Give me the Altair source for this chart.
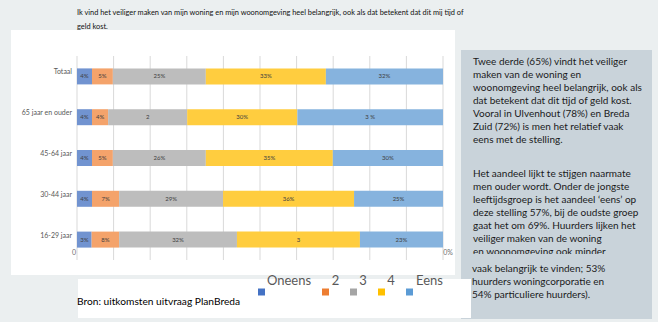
import altair as alt
import pandas as pd

# ---------------- data ----------------
categories = ["Totaal", "65 jaar en ouder", "45-64 jaar", "30-44 jaar", "16-29 jaar"]
answers = ["Oneens", "2", "3", "4", "Eens"]

# segment widths (percent)
oneens = [4.1, 4.1, 4.1, 4.1, 4.0]
twee = [5.7, 4.4, 5.7, 7.4, 7.5]
drie = [25.4, 21.6, 25.4, 28.4, 32.2]
vier = [32.8, 30.1, 34.7, 35.8, 33.6]
eens = [32.0, 39.8, 30.1, 24.3, 22.7]

# data labels as they appear
lab_oneens = ["4%", "4%", "4%", "4%", "3%"]
lab_twee = ["5%", "4%", "5%", "7%", "8%"]
lab_drie = ["25%", "2", "26%", "29%", "32%"]
lab_vier = ["33%", "30%", "35%", "36%", "3"]
lab_eens = ["32%", "3 %", "30%", "25%", "23%"]

gridlines = [0, 10, 20, 30, 40, 50, 60, 70, 80, 90, 100]
axis_labels = ["0", "0%"]

title_lines = [
    "Ik vind het veiliger maken van mijn woning en mijn woonomgeving heel belangrijk, ook als dat betekent dat dit mij tijd of",
    "geld kost.",
]
para1 = [
    "Twee derde (65%) vindt het veiliger",
    "maken van de woning en",
    "woonomgeving heel belangrijk, ook als",
    "dat betekent dat dit tijd  of geld kost.",
    "Vooral in Ulvenhout (78%) en Breda",
    "Zuid (72%) is men het relatief vaak",
    "eens met de stelling.",
]
para2 = [
    "Het aandeel lijkt te stijgen naarmate",
    "men ouder wordt.  Onder de jongste",
    "leeftijdsgroep  is het aandeel \u2018eens\u2019 op",
    "deze stelling 57%, bij de oudste groep",
    "gaat het om 69%. Huurders lijken het",
    "veiliger maken van de woning",
    "en woonomgeving ook minder",
]
para3 = [
    "vaak belangrijk te vinden; 53%",
    "huurders woningcorporatie en",
    "54% particuliere huurders).",
]
source = "Bron: uitkomsten uitvraag PlanBreda"

# ---------------- styles / layout ----------------
bar_colors = ["#7193d0", "#f4a36b", "#bdbdbd", "#ffcd3f", "#86b3de"]
legend_colors = ["#4472c4", "#ed7d31", "#a5a5a5", "#ffc000", "#5b9bd5"]
legend_label_x = [289, 335.5, 363, 391, 429.5]
legend_square_x = [261.5, 325.5, 353.5, 381.5, 409.5]
axis_label_x = [74, 448]
FONT = "Lato"
BG = "#ebeff0"
PANEL = "#c9d3da"

W, H = 658, 322

rows = []
series = [oneens, twee, drie, vier, eens]
labels = [lab_oneens, lab_twee, lab_drie, lab_vier, lab_eens]
for ci, cat in enumerate(categories):
    for ai, ans in enumerate(answers):
        rows.append({"cat": cat, "ans": ans, "ord": ai,
                     "val": series[ai][ci], "lab": labels[ai][ci]})
df = pd.DataFrame(rows)

xscale = alt.Scale(domain=[0, 100], range=[77, 443], nice=False, zero=False)
yscale = alt.Scale(domain=categories, range=[56, 260], paddingInner=0, paddingOuter=0)

one = pd.DataFrame({"k": [0]})

def rect(x1, x2, y1, y2, color):
    return alt.Chart(one).mark_rect(color=color).encode(
        x=alt.value(x1), x2=alt.value(x2), y=alt.value(y1), y2=alt.value(y2))

white_panel = rect(11, 455, 30, 275, "white")
side_panel = rect(461, 652, 50, 319, PANEL)
bottom_box = rect(78, 471, 279, 318, "white")

grid = alt.Chart(pd.DataFrame({"g": gridlines})).mark_rule(
    color="#d9d9d9", strokeWidth=1).encode(
    x=alt.X("g:Q", scale=xscale, axis=None),
    y=alt.value(56), y2=alt.value(260))

base = alt.Chart(df).transform_stack(
    stack="val", as_=["x0", "x1"], groupby=["cat"],
    sort=[alt.SortField("ord", order="ascending")]
).transform_calculate(mid="(datum.x0 + datum.x1) / 2")

bars = base.mark_bar(size=16).encode(
    x=alt.X("x0:Q", scale=xscale, axis=None),
    x2="x1:Q",
    y=alt.Y("cat:N", scale=yscale, axis=None),
    color=alt.Color("ans:N", scale=alt.Scale(domain=answers, range=bar_colors), legend=None),
)

bar_labels = base.mark_text(font=FONT, fontSize=6, color="#404040", baseline="middle").encode(
    x=alt.X("mid:Q", scale=xscale, axis=None),
    y=alt.Y("cat:N", scale=yscale, axis=None),
    text="lab:N",
)

cat_labels = alt.Chart(pd.DataFrame({"cat": categories})).mark_text(
    font=FONT, fontSize=7, color="#595959", align="right", baseline="middle", dy=-4).encode(
    x=alt.value(72),
    y=alt.Y("cat:N", scale=yscale, axis=None),
    text="cat:N",
)

ax_lab = alt.Chart(pd.DataFrame({"t": axis_labels, "ax": axis_label_x})).mark_text(
    font=FONT, fontSize=7, color="#6f6f6f", baseline="middle", align="center").encode(
    x=alt.X("ax:Q", scale=None, axis=None), y=alt.value(253), text="t:N")

def textblock(lines, x, y, size, lh, color="#1a1a1a"):
    return alt.Chart(one).mark_text(
        font=FONT, fontSize=size, color=color, align="left", baseline="alphabetic",
        lineHeight=lh, text=lines).encode(x=alt.value(x), y=alt.value(y))

title = textblock(title_lines, 77, 15, 7.4, 14, "#111111")
p1 = textblock(para1, 473, 65, 10, 13)
p2 = textblock(para2, 473, 177, 10, 13)
cut = rect(461, 652, 254, 262, PANEL)
p3 = textblock(para3, 472, 272, 10, 13)
bron = textblock([source], 77, 305, 10.2, 12, "#000000")

leg_df = pd.DataFrame({"ans": answers, "lx": legend_label_x, "sx": legend_square_x, "c": legend_colors})
leg_text = alt.Chart(leg_df).mark_text(
    font=FONT, fontSize=13, color="#595959", baseline="alphabetic").encode(
    x=alt.X("lx:Q", scale=None, axis=None), y=alt.value(285), text="ans:N")
leg_sq = alt.Chart(leg_df).mark_square(size=49, opacity=1).encode(
    x=alt.X("sx:Q", scale=None, axis=None), y=alt.value(292),
    fill=alt.Color("c:N", scale=None), stroke=alt.value(None))

chart = alt.layer(
    white_panel, side_panel, bottom_box, grid, bars, bar_labels, cat_labels,
    ax_lab, title, p1, p2, cut, p3, bron, leg_text, leg_sq,
).properties(
    width=W, height=H, autosize=alt.AutoSizeParams(type="none"), padding=0,
    background=BG,
).configure_view(stroke=None)

chart.save("out.html", embed_options={"renderer": "svg", "actions": False})
